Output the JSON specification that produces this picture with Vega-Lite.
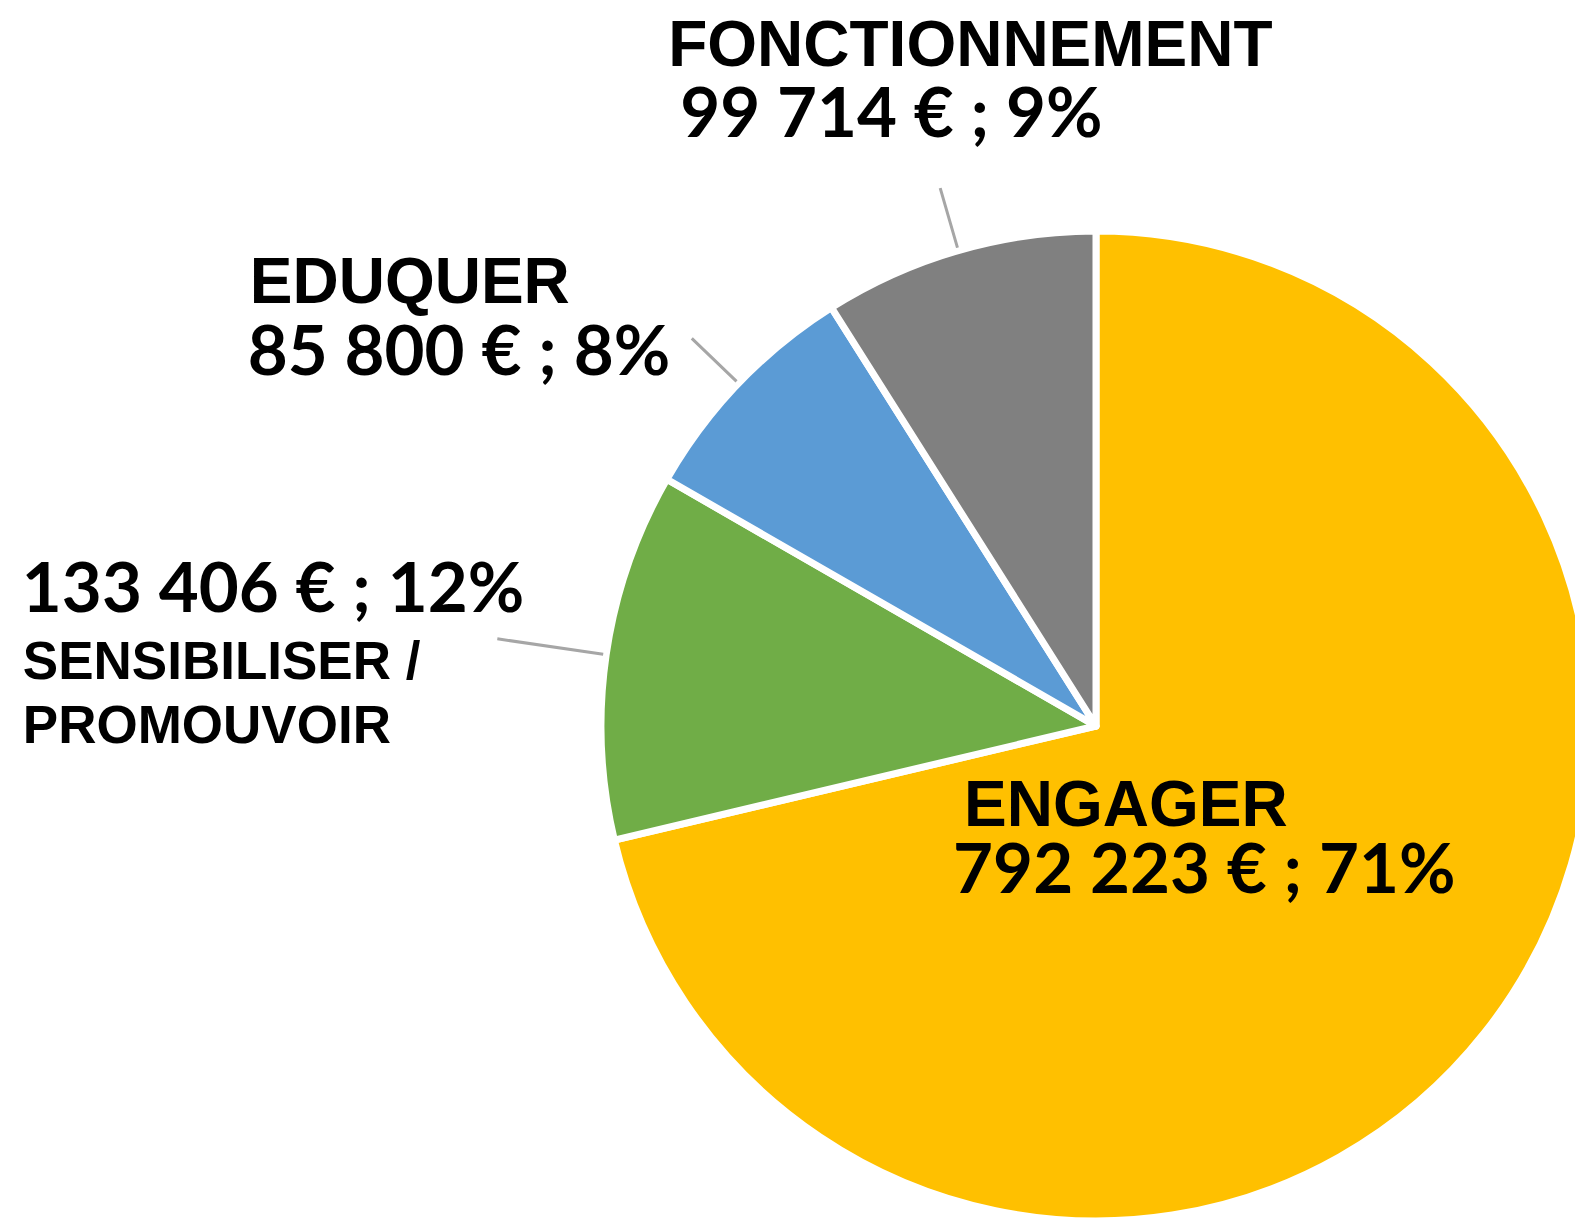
{
  "$schema": "https://vega.github.io/schema/vega-lite/v6.json",
  "autosize": {"type": "none"},
  "width": 958,
  "height": 992,
  "padding": {"left": 617, "top": 230, "right": 0, "bottom": 0},
  "background": "white",
  "config": {"view": {"stroke": null}},
  "data": {
    "values": [
      {"cat": "ENGAGER", "name": "ENGAGER", "amount": "792 223 € ; 71%", "value": 792223, "order": 1},
      {"cat": "SENSIBILISER / PROMOUVOIR", "name": "SENSIBILISER /\nPROMOUVOIR", "amount": "133 406 € ; 12%", "value": 133406, "order": 2},
      {"cat": "EDUQUER", "name": "EDUQUER", "amount": "85 800 € ; 8%", "value": 85800, "order": 3},
      {"cat": "FONCTIONNEMENT", "name": "FONCTIONNEMENT", "amount": "99 714 € ; 9%", "value": 99714, "order": 4}
    ]
  },
  "encoding": {
    "theta": {"field": "value", "type": "quantitative", "stack": true},
    "order": {"field": "order", "type": "quantitative"}
  },
  "layer": [
    {
      "mark": {"type": "arc", "radius": 495, "stroke": "white", "strokeWidth": 7, "strokeJoin": "round"},
      "encoding": {
        "color": {
          "field": "cat", "type": "nominal", "legend": null,
          "scale": {"domain": ["ENGAGER", "SENSIBILISER / PROMOUVOIR", "EDUQUER", "FONCTIONNEMENT"],
                    "range": ["#FFC000", "#70AD47", "#5B9BD5", "#808080"]}
        }
      }
    },
    {
      "mark": {"type": "arc", "radius": 560, "radius2": 498, "padAngle": 3.14, "stroke": "#A6A6A6", "strokeWidth": 3, "fillOpacity": 0},
      "encoding": {
        "strokeOpacity": {"condition": {"test": "datum.cat === 'EDUQUER' || datum.cat === 'FONCTIONNEMENT'", "value": 1}, "value": 0}
      }
    },
    {
      "mark": {"type": "arc", "radius": 605, "radius2": 498, "padAngle": 3.14, "stroke": "#A6A6A6", "strokeWidth": 3, "fillOpacity": 0},
      "encoding": {
        "strokeOpacity": {"condition": {"test": "datum.cat === 'SENSIBILISER / PROMOUVOIR'", "value": 1}, "value": 0}
      }
    },
    {
      "mark": {"type": "text", "radius": 250, "align": "left", "baseline": "alphabetic", "dx": -328, "dy": -55, "font": "Liberation Sans", "fontSize": 64, "fontWeight": "bold", "color": "black"},
      "encoding": {"text": {"condition": {"test": "datum.cat === 'ENGAGER'", "field": "name", "type": "nominal"}, "value": ""}}
    },
    {
      "mark": {"type": "text", "radius": 250, "align": "left", "baseline": "alphabetic", "dx": -339, "dy": 12, "font": "Lato", "fontSize": 69, "fontWeight": "bold", "color": "black"},
      "encoding": {"text": {"condition": {"test": "datum.cat === 'ENGAGER'", "field": "amount", "type": "nominal"}, "value": ""}}
    },
    {
      "mark": {"type": "text", "radius": 560, "align": "left", "baseline": "alphabetic", "dx": -520, "dy": -33, "font": "Lato", "fontSize": 69, "fontWeight": "bold", "color": "black"},
      "encoding": {"text": {"condition": {"test": "datum.cat === 'SENSIBILISER / PROMOUVOIR'", "field": "amount", "type": "nominal"}, "value": ""}}
    },
    {
      "mark": {"type": "text", "radius": 560, "align": "left", "baseline": "alphabetic", "dx": -519, "dy": 34, "font": "Liberation Sans", "fontSize": 53, "fontWeight": "bold", "lineBreak": "\n", "lineHeight": 64, "color": "black"},
      "encoding": {"text": {"condition": {"test": "datum.cat === 'SENSIBILISER / PROMOUVOIR'", "field": "name", "type": "nominal"}, "value": ""}}
    },
    {
      "mark": {"type": "text", "radius": 560, "align": "left", "baseline": "alphabetic", "dx": -442, "dy": -35, "font": "Liberation Sans", "fontSize": 64, "fontWeight": "bold", "color": "black"},
      "encoding": {"text": {"condition": {"test": "datum.cat === 'EDUQUER'", "field": "name", "type": "nominal"}, "value": ""}}
    },
    {
      "mark": {"type": "text", "radius": 560, "align": "left", "baseline": "alphabetic", "dx": -444, "dy": 37, "font": "Lato", "fontSize": 69, "fontWeight": "bold", "color": "black"},
      "encoding": {"text": {"condition": {"test": "datum.cat === 'EDUQUER'", "field": "amount", "type": "nominal"}, "value": ""}}
    },
    {
      "mark": {"type": "text", "radius": 560, "align": "left", "baseline": "alphabetic", "dx": -272, "dy": -122, "font": "Liberation Sans", "fontSize": 64, "fontWeight": "bold", "color": "black"},
      "encoding": {"text": {"condition": {"test": "datum.cat === 'FONCTIONNEMENT'", "field": "name", "type": "nominal"}, "value": ""}}
    },
    {
      "mark": {"type": "text", "radius": 560, "align": "left", "baseline": "alphabetic", "dx": -260, "dy": -51, "font": "Lato", "fontSize": 69, "fontWeight": "bold", "color": "black"},
      "encoding": {"text": {"condition": {"test": "datum.cat === 'FONCTIONNEMENT'", "field": "amount", "type": "nominal"}, "value": ""}}
    }
  ]
}
